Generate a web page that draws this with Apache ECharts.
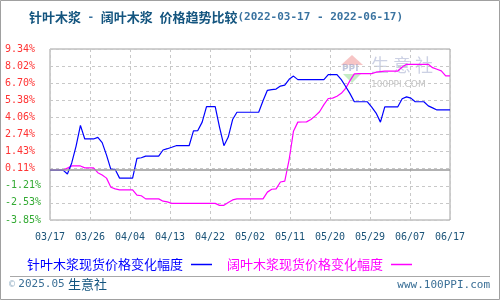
<!DOCTYPE html>
<html><head><meta charset="utf-8">
<script src="https://cdn.jsdelivr.net/npm/echarts@6/dist/echarts.min.js"></script>
<style>html,body{margin:0;padding:0;background:#fff}#c{width:500px;height:300px}</style>
</head><body><div id="c"></div>
<script>
var xTickLabels = ['03/17','03/26','04/04','04/13','04/22','05/02','05/11','05/20','05/29','06/07','06/17'];
var yTickLabels = ['-3.85%','-2.53%','-1.21%','0.11%','1.43%','2.74%','4.06%','5.38%','6.70%','8.02%','9.34%'];
var seriesNames = ['针叶木浆现货价格变化幅度','阔叶木浆现货价格变化幅度'];
// daily values, 2022-03-17 .. 2022-06-17 (93 days)
var softwood = [0,0,0,0,-0.30,0.55,1.85,3.45,2.40,2.40,
  2.40,2.52,2.12,1.15,0.05,0.05,-0.62,-0.62,-0.62,-0.62,
  0.90,0.95,1.08,1.08,1.08,1.08,1.55,1.65,1.76,1.88,
  1.88,1.88,1.88,3.02,3.05,3.70,4.90,4.90,4.90,3.30,
  1.88,2.55,3.90,4.46,4.46,4.46,4.46,4.46,4.46,5.35,
  6.15,6.20,6.25,6.48,6.55,7.00,7.25,6.98,6.98,6.98,
  6.98,6.98,6.98,6.98,7.37,7.37,7.37,6.98,6.45,5.90,
  5.27,5.27,5.27,5.27,4.85,4.40,3.70,4.88,4.88,4.88,
  4.88,5.50,5.65,5.55,5.27,5.27,5.27,4.95,4.80,4.64,
  4.64,4.64,4.64];
var hardwood = [0,0,0,0,0.15,0.32,0.32,0.32,0.17,0.17,
  0.17,-0.20,-0.38,-0.62,-1.32,-1.45,-1.52,-1.52,-1.52,-1.52,
  -1.93,-1.98,-2.22,-2.22,-2.22,-2.22,-2.40,-2.45,-2.57,-2.57,
  -2.57,-2.57,-2.57,-2.57,-2.57,-2.57,-2.57,-2.57,-2.57,-2.72,
  -2.72,-2.50,-2.30,-2.22,-2.22,-2.22,-2.22,-2.22,-2.22,-2.22,
  -1.70,-1.48,-1.45,-0.92,-0.85,0.80,3.00,3.70,3.71,3.72,
  3.90,4.18,4.50,5.05,5.52,5.55,5.70,5.92,6.30,6.90,
  7.42,7.44,7.44,7.44,7.44,7.55,7.60,7.64,7.64,7.64,
  7.64,7.95,8.16,8.16,8.16,8.16,8.16,8.16,7.90,7.78,
  7.65,7.26,7.26];

var mono = "'DejaVu Sans Mono', 'Liberation Mono', monospace";
var cjk = "'Noto Sans CJK SC', 'DejaVu Sans', sans-serif";
var chart = echarts.init(document.getElementById('c'), null, {renderer:'canvas'});
function pairs(arr){ return arr.map(function(v,i){ return [i, v]; }); }
var xStep = (softwood.length - 1) / (xTickLabels.length - 1);

chart.setOption({
  animation: false,
  backgroundColor: '#fff',
  title: {
    text: '{c|针叶木浆}{d| - }{c|阔叶木浆}{d| }{c|价格趋势比较}{d|(2022-03-17 - 2022-06-17)}',
    left: 24, top: 6,
    textStyle: { rich: {
      c: { fontFamily: cjk, fontSize: 13, color: '#14557f' },
      d: { fontFamily: mono, fontSize: 11, color: '#3a73a0' }
    } }
  },
  grid: { left: 50, right: 50, top: 49, bottom: 80, show: true, borderColor: '#a0a0a0', borderWidth: 1, containLabel: false },
  xAxis: {
    type: 'value', min: 0, max: softwood.length - 1, interval: xStep,
    axisLine: { show: false }, axisTick: { show: false },
    axisLabel: { margin: 12, fontFamily: mono, fontSize: 10, color: '#1a5378',
      showMinLabel: true, showMaxLabel: true,
      formatter: function(v){ return xTickLabels[Math.round(v / xStep)] || ''; } },
    splitLine: { show: true, lineStyle: { color: '#c8c8c8', type: [3,3], width: 1 } }
  },
  yAxis: [
    { type: 'value', min: -3.85, max: 9.34, show: false, splitLine: { show: false } },
    { type: 'value', min: 0, max: 10, interval: 1, position: 'left',
      axisLine: { show: false }, axisTick: { show: false },
      axisLabel: { margin: 45, align: 'left', fontFamily: mono, fontSize: 10,
        formatter: function(v){ return yTickLabels[Math.round(v)]; },
        color: function(v, i){ return (yTickLabels[Math.round(v)] || '').charAt(0) === '-' ? '#33aa33' : '#ff3333'; } },
      splitLine: { show: true, lineStyle: { color: '#c8c8c8', type: [3,3], width: 1 } } }
  ],
  legend: {
    left: 22, top: 253, align: 'right', itemGap: 15, itemWidth: 21, itemHeight: 1.5,
    icon: 'rect',
    textStyle: { fontFamily: cjk, fontSize: 13, padding: [0, 3, 0, 0] },
    data: [
      { name: seriesNames[0], textStyle: { color: '#0000ff' } },
      { name: seriesNames[1], textStyle: { color: '#ff00ff' } }
    ]
  },
  graphic: [
    { type: 'rect', shape: { x: 0.5, y: 0.5, width: 499, height: 299 }, style: { fill: 'none', stroke: '#a0a0a0', lineWidth: 1 }, silent: true },
    { type: 'line', shape: { x1: 10, y1: 276.5, x2: 490, y2: 276.5 }, style: { stroke: '#a8a8a8', lineWidth: 1 } },
    { type: 'text', left: 9, top: 278, style: { text: '{a|©} {b|2025.05} {c|生意社}', rich: {
        a: { fontFamily: mono, fontSize: 10, fill: '#9ab4c8' },
        b: { fontFamily: mono, fontSize: 11, fill: '#3a6f96' },
        c: { fontFamily: cjk, fontSize: 13, fill: '#14557f' } } } },
    { type: 'text', right: 10, top: 280, style: { text: 'www.100PPI.com', fontFamily: mono, fontSize: 11, fill: '#3a6f96' } },
    // watermark
    { type: 'polygon', shape: { points: [[352,55],[341,65],[363,65]] }, style: { fill: 'rgba(240,150,150,0.55)' }, silent: true, z: 0 },
    { type: 'text', left: 342, top: 64, style: { text: 'PPI', fontFamily: "'DejaVu Sans', sans-serif", fontSize: 9, fontWeight: 'bold', fill: 'rgba(150,160,200,0.6)' }, silent: true, z: 0 },
    { type: 'polygon', shape: { points: [[343,74],[361,74],[352,83]] }, style: { fill: 'rgba(150,220,150,0.55)' }, silent: true, z: 0 },
    { type: 'text', left: 371, top: 56, style: { text: '生 意 社', fontFamily: cjk, fontSize: 18, fill: 'rgba(170,178,210,0.6)' }, silent: true, z: 0 },
    { type: 'text', left: 371, top: 80, style: { text: '100PPI.COM', fontFamily: "'DejaVu Sans', sans-serif", fontSize: 9, fill: 'rgba(170,170,170,0.7)' }, silent: true, z: 0 }
  ],
  series: [
    { name: seriesNames[0], type: 'line', yAxisIndex: 0, data: pairs(softwood), showSymbol: false, symbol: 'none',
      lineStyle: { color: '#0000ff', width: 1.2 }, itemStyle: { color: '#0000ff' }, z: 3,
      markLine: { silent: true, symbol: 'none', label: { show: false },
        lineStyle: { color: '#999999', type: 'solid', width: 1.5 }, data: [{ yAxis: 0 }] } },
    { name: seriesNames[1], type: 'line', yAxisIndex: 0, data: pairs(hardwood), showSymbol: false, symbol: 'none',
      lineStyle: { color: '#ff00ff', width: 1.2 }, itemStyle: { color: '#ff00ff' }, z: 2 }
  ]
});
</script></body></html>
